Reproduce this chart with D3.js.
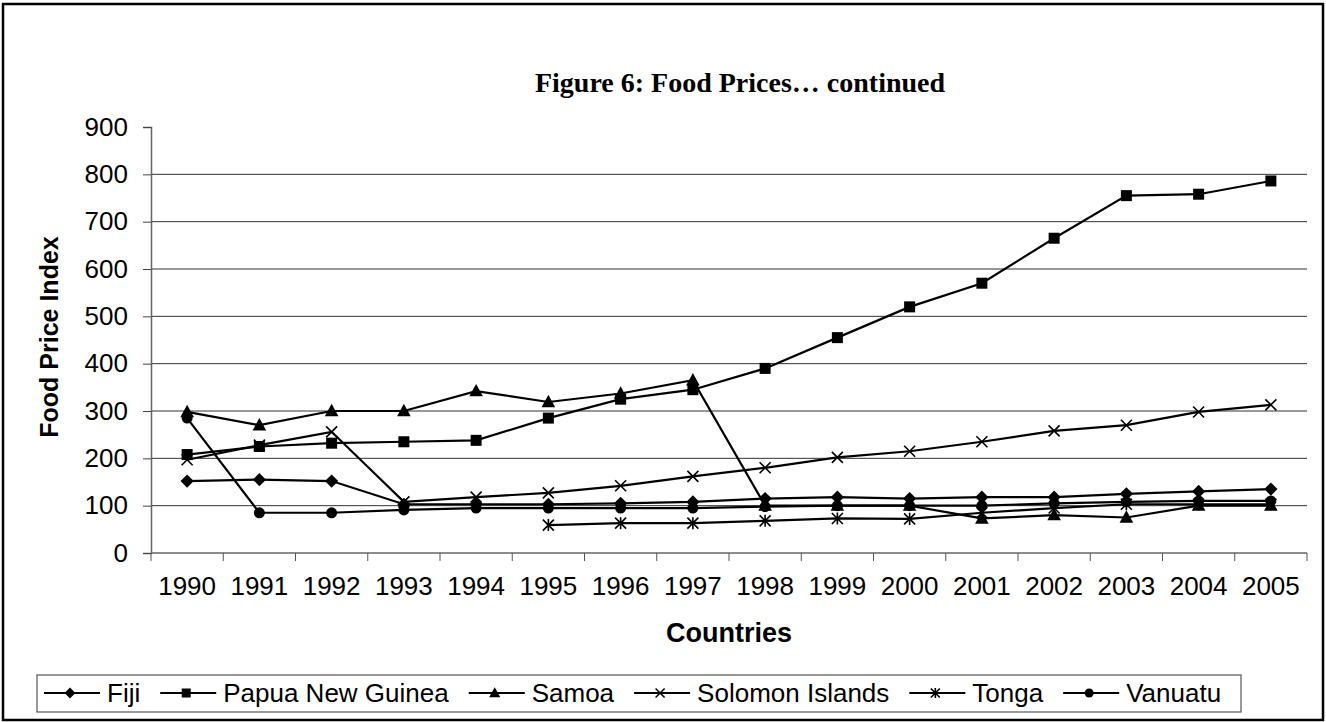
<!DOCTYPE html>
<html>
<head>
<meta charset="utf-8">
<script src="https://cdn.jsdelivr.net/npm/d3@7"></script>
<style>
  body { margin: 0; background: #fff; }
  svg { display: block; }
  text { font-family: Arial, "Liberation Sans", sans-serif; fill: #000; }
</style>
</head>
<body>
<script>
// chart data
const years = ["1990","1991","1992","1993","1994","1995","1996","1997","1998","1999","2000","2001","2002","2003","2004","2005"];
const fiji = [152,155,152,103,103,103,105,108,115,118,115,118,118,125,130,135];
const png = [208,225,232,235,238,285,325,345,390,455,520,570,665,755,758,786];
const samoa = [298,270,300,300,342,319,337,365,100,100,100,73,80,75,100,100];
const solomon = [197,228,256,108,118,127,142,162,180,202,215,235,258,270,298,313];
const tonga = [null,null,null,null,null,59,63,63,68,73,72,85,95,103,103,103];
const vanuatu = [285,85,85,91,95,95,95,95,98,100,100,100,105,108,110,110];
const yTicks = [0,100,200,300,400,500,600,700,800,900];

const series = [
  { name: "Fiji", values: fiji, marker: "diamond" },
  { name: "Papua New Guinea", values: png, marker: "square" },
  { name: "Samoa", values: samoa, marker: "triangle" },
  { name: "Solomon Islands", values: solomon, marker: "x" },
  { name: "Tonga", values: tonga, marker: "star" },
  { name: "Vanuatu", values: vanuatu, marker: "circle" }
];

const width = 1326, height = 722;
const plotLeft = 151, plotRight = 1307, plotTop = 127, plotBottom = 553;

const svg = d3.select("body").append("svg")
  .attr("width", width)
  .attr("height", height);

// outer frame
svg.append("rect")
  .attr("x", 3).attr("y", 4)
  .attr("width", 1320).attr("height", 716)
  .attr("fill", "none").attr("stroke", "#000").attr("stroke-width", 2.5);

const x = d3.scaleBand().domain(years).range([plotLeft, plotRight]);
const y = d3.scaleLinear().domain([0, 900]).range([plotBottom, plotTop]);

// gridlines (none at the top value)
svg.append("g").selectAll("line")
  .data(yTicks.filter(d => d > 0 && d < 900))
  .join("line")
  .attr("x1", plotLeft).attr("x2", plotRight)
  .attr("y1", d => y(d)).attr("y2", d => y(d))
  .attr("stroke", "#333").attr("stroke-width", 1);

// y axis
const yAxis = svg.append("g")
  .attr("transform", `translate(${plotLeft},0)`)
  .call(d3.axisLeft(y).tickValues(yTicks).tickSize(8).tickPadding(15));
yAxis.select(".domain").attr("stroke", "#666").attr("stroke-width", 1.5);
yAxis.selectAll(".tick line").attr("stroke", "#444");
yAxis.selectAll("text")
  .style("font-size", "26px")
  .style("font-family", "Arial, 'Liberation Sans', sans-serif")
  .attr("fill", "#000");

// x axis - ticks between categories
const xg = svg.append("g").attr("transform", `translate(0,${plotBottom})`);
xg.append("line").attr("x1", plotLeft).attr("x2", plotRight)
  .attr("stroke", "#666").attr("stroke-width", 1.5);
const edges = years.map(d => x(d)).concat([plotRight]);
xg.selectAll("line.tk").data(edges).join("line")
  .attr("class", "tk")
  .attr("x1", d => d).attr("x2", d => d)
  .attr("y1", 0).attr("y2", 8)
  .attr("stroke", "#555");
xg.selectAll("text").data(years).join("text")
  .attr("x", d => x(d) + x.bandwidth() / 2)
  .attr("y", 42)
  .attr("text-anchor", "middle")
  .style("font-size", "26px")
  .text(d => d);

// titles
svg.append("text")
  .attr("x", 740).attr("y", 92)
  .attr("text-anchor", "middle")
  .style("font-family", "'Liberation Serif', 'Times New Roman', serif")
  .style("font-weight", "bold")
  .style("font-size", "28px")
  .text("Figure 6: Food Prices\u2026 continued");

svg.append("text")
  .attr("transform", "translate(58,337) rotate(-90)")
  .attr("text-anchor", "middle")
  .style("font-weight", "bold")
  .style("font-size", "25px")
  .text("Food Price Index");

svg.append("text")
  .attr("x", 729).attr("y", 642)
  .attr("text-anchor", "middle")
  .style("font-weight", "bold")
  .style("font-size", "27px")
  .text("Countries");

// markers
function drawMarker(g, type, cx, cy, s) {
  if (type === "diamond") {
    g.append("path").attr("d", `M${cx},${cy - s * 0.6}L${cx + s * 0.6},${cy}L${cx},${cy + s * 0.6}L${cx - s * 0.6},${cy}Z`).attr("fill", "#000");
  } else if (type === "square") {
    g.append("rect").attr("x", cx - s / 2).attr("y", cy - s / 2).attr("width", s).attr("height", s).attr("fill", "#000");
  } else if (type === "triangle") {
    const h = s * 1.05;
    g.append("path").attr("d", `M${cx},${cy - h * 0.62}L${cx + s * 0.62},${cy + h * 0.45}L${cx - s * 0.62},${cy + h * 0.45}Z`).attr("fill", "#000");
  } else if (type === "x") {
    const r = s / 2;
    g.append("path").attr("d", `M${cx - r},${cy - r}L${cx + r},${cy + r}M${cx - r},${cy + r}L${cx + r},${cy - r}`).attr("stroke", "#000").attr("stroke-width", 1.6);
  } else if (type === "star") {
    const r = s / 2;
    g.append("path").attr("d", `M${cx - r},${cy - r}L${cx + r},${cy + r}M${cx - r},${cy + r}L${cx + r},${cy - r}M${cx},${cy - r * 1.1}L${cx},${cy + r * 1.1}`).attr("stroke", "#000").attr("stroke-width", 1.6);
  } else if (type === "circle") {
    g.append("circle").attr("cx", cx).attr("cy", cy).attr("r", s / 2).attr("fill", "#000");
  }
}

const line = d3.line()
  .defined(d => d.v != null)
  .x(d => x(d.year) + x.bandwidth() / 2)
  .y(d => y(d.v));

series.forEach(s => {
  const pts = years.map((yr, i) => ({ year: yr, v: s.values[i] }));
  const g = svg.append("g");
  g.append("path")
    .attr("d", line(pts))
    .attr("fill", "none")
    .attr("stroke", "#000")
    .attr("stroke-width", 2.2);
  pts.filter(p => p.v != null).forEach(p => {
    drawMarker(g, s.marker, x(p.year) + x.bandwidth() / 2, y(p.v), 11);
  });
});

// legend
const legend = svg.append("g");
legend.append("rect")
  .attr("x", 37).attr("y", 675)
  .attr("width", 1204).attr("height", 37)
  .attr("fill", "#fff").attr("stroke", "#555").attr("stroke-width", 1.2);

// entries laid out one after the other
let lx = 44;
const ly = 693;
series.forEach(s => {
  const g = legend.append("g");
  g.append("line").attr("x1", lx).attr("x2", lx + 56).attr("y1", ly).attr("y2", ly)
    .attr("stroke", "#000").attr("stroke-width", 2);
  drawMarker(g, s.marker, lx + 26, ly, 9);
  const t = g.append("text")
    .attr("x", lx + 63).attr("y", ly + 9)
    .style("font-size", "26px")
    .text(s.name);
  lx += 63 + t.node().getComputedTextLength() + 20;
});
</script>
</body>
</html>
